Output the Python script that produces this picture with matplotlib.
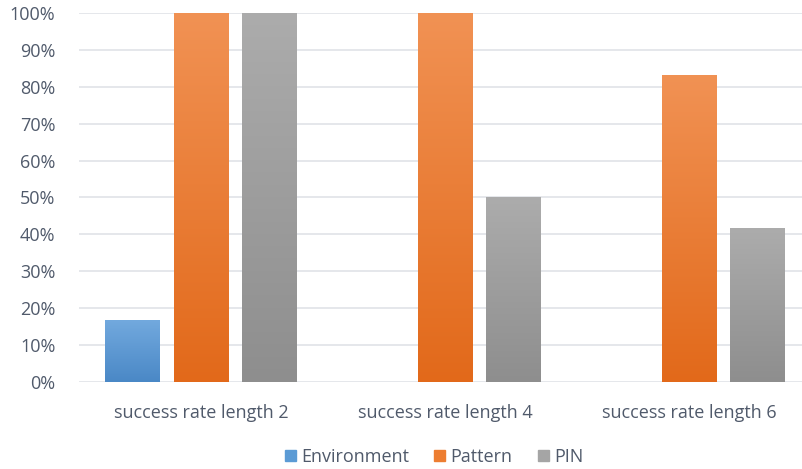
import numpy as np
import matplotlib.pyplot as plt
from matplotlib.colors import LinearSegmentedColormap
from matplotlib.patches import Patch

categories = ['success rate length 2', 'success rate length 4', 'success rate length 6']
series = ['Environment', 'Pattern', 'PIN']
environment = [16.67, 0, 0]
pattern = [100, 100, 83.33]
pin = [100, 50, 41.67]
values = [environment, pattern, pin]

# (top colour, bottom colour) for each series
grads = [('#72a9de', '#4a88c6'), ('#f19254', '#e2691a'), ('#acacac', '#8e8e8e')]
legend_cols = ['#5b9bd5', '#ed7d31', '#a5a5a5']
txt = '#505a6b'

plt.rcParams['font.family'] = ['Open Sans', 'DejaVu Sans']

fig = plt.figure(figsize=(8.02, 4.69), dpi=100)
ax = fig.add_axes([79/802, 1 - 382/469, 732/802, 369/469])

x = np.arange(len(categories))
w = 0.225
step = 0.279
for i, (name, vals) in enumerate(zip(series, values)):
    bars = ax.bar(x + (i - 1) * step, vals, w, color='none', zorder=3)
    cmap = LinearSegmentedColormap.from_list(name, [grads[i][1], grads[i][0]])
    for b in bars:
        if b.get_height() <= 0:
            continue
        x0, y0 = b.get_x(), b.get_y()
        grad = np.linspace(0, 1, 256).reshape(-1, 1)
        im = ax.imshow(grad, cmap=cmap, origin='lower', aspect='auto',
                       extent=[x0, x0 + b.get_width(), y0, y0 + b.get_height()], zorder=3)
        im.set_clip_path(b)

ax.set_xlim(-0.5, 2.5)
ax.set_ylim(0, 100)
ax.set_yticks(np.arange(0, 101, 10))
ax.set_yticklabels([f'{v}%' for v in range(0, 101, 10)])
ax.set_xticks(x)
ax.set_xticklabels(categories)
ax.grid(axis='y', color='#e0e3e8', linewidth=1.2, zorder=0)
for s in ax.spines.values():
    s.set_visible(False)
ax.tick_params(length=0, labelsize=13, colors=txt)
ax.tick_params(axis='y', pad=17)
ax.tick_params(axis='x', pad=16)

handles = [Patch(color=c) for c in legend_cols]
fig.legend(handles, series, loc='center', bbox_to_anchor=(434/802, 1 - 457/469), ncol=3,
           frameon=False, fontsize=13, labelcolor=txt, handlelength=0.6, handleheight=0.6,
           handletextpad=0.3, columnspacing=1.4)

fig.savefig('out.png', dpi=100)
